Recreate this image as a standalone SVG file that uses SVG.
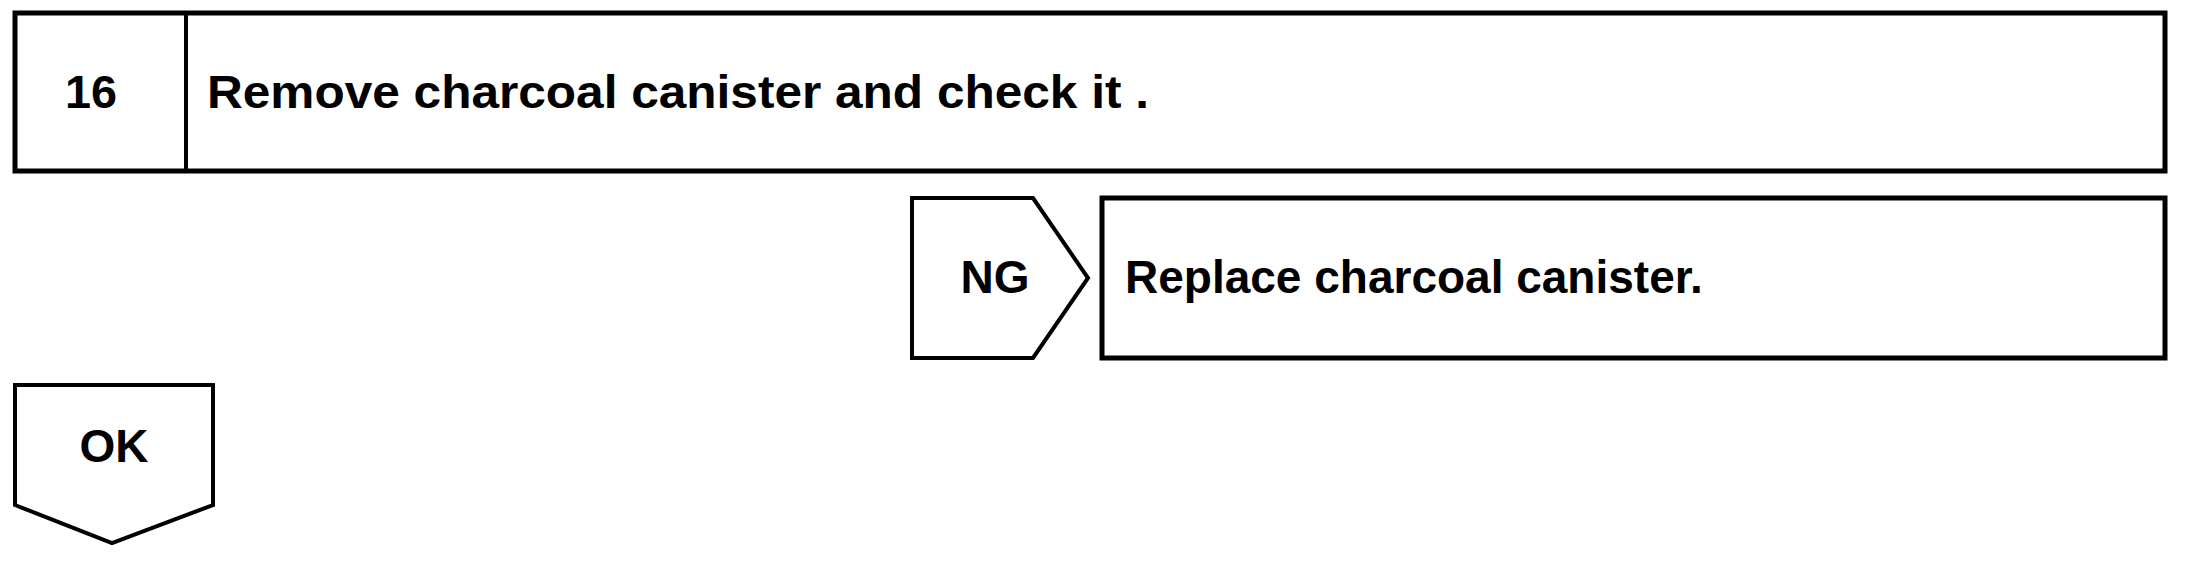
<svg xmlns="http://www.w3.org/2000/svg" width="2208" height="561" viewBox="0 0 2208 561">
<style>
.box{fill:#fff;stroke:#000;stroke-width:5;stroke-linejoin:miter}
.tag{fill:#fff;stroke:#000;stroke-width:4;stroke-linejoin:miter}
.t{font-family:"Liberation Sans",Arial,sans-serif;font-weight:bold;font-size:46px;fill:#000}
</style>
<rect width="2208" height="561" fill="#fff"/>
<g id="step16">
<rect class="box" x="15" y="13" width="2150" height="158"/>
<line x1="186" y1="13" x2="186" y2="171" stroke="#000" stroke-width="4"/>
<text class="t" x="91" y="108" text-anchor="middle" textLength="52" lengthAdjust="spacingAndGlyphs">16</text>
<text class="t" x="207" y="108" textLength="942" lengthAdjust="spacingAndGlyphs">Remove charcoal canister and check it .</text>
</g>
<g id="ng">
<polygon class="tag" points="912,198 1033,198 1088,278 1033,358 912,358"/>
<text class="t" x="995" y="293" text-anchor="middle">NG</text>
</g>
<g id="replace">
<rect class="box" x="1102" y="198" width="1063" height="160"/>
<text class="t" x="1125" y="293">Replace charcoal canister.</text>
</g>
<g id="ok">
<polygon class="tag" points="15,385 213,385 213,505 112,543 15,505"/>
<text class="t" x="114" y="462" text-anchor="middle">OK</text>
</g>
<g id="connectors"/>
</svg>
